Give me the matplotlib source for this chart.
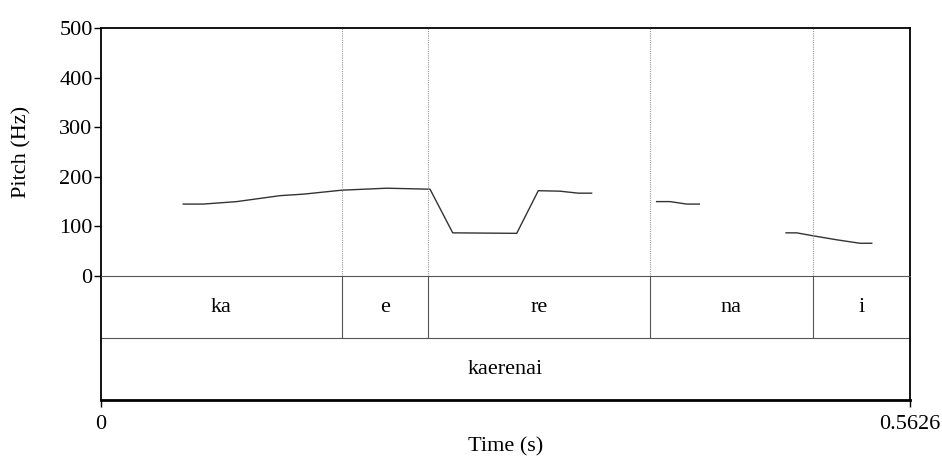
import numpy as np
import matplotlib.pyplot as plt

plt.rcParams['font.family'] = ['Liberation Serif', 'DejaVu Serif']

# pitch contour (NaN separates voiced stretches)
time = [0.0572, 0.0711, 0.0944, 0.1245, 0.1407, 0.1674, 0.1987, 0.2288, 0.2446,
        0.2891, 0.3041, 0.3192, 0.3319, 0.3412, np.nan,
        0.3864, 0.3957, 0.4073, 0.4161, np.nan,
        0.4764, 0.4838, 0.4953, 0.5116, 0.5278, 0.5360]
pitch = [145, 145, 150, 162, 165, 173, 177, 175, 87,
         86, 172, 171, 167, 167, np.nan,
         150, 150, 145, 145, np.nan,
         87, 87, 81, 73, 66, 66]

# syllable tier
syl_bounds = [0.0, 0.1674, 0.2271, 0.3821, 0.4948, 0.5626]
syl_labels = ['ka', 'e', 're', 'na', 'i']
word_label = 'kaerenai'
t_end = 0.5626

W, H = 942, 458
fs = 16
fig = plt.figure(figsize=(W / 100, H / 100), dpi=100)
left, right = 101 / W, 910 / W
ax = fig.add_axes([left, 1 - 276 / H, right - left, (276 - 28) / H])
ax2 = fig.add_axes([left, 1 - 400 / H, right - left, (400 - 276) / H])

# pitch panel
ax.plot(time, pitch, color='#333333', lw=1.0)
for b in syl_bounds[1:-1]:
    ax.axvline(b, color='#999999', lw=0.8, ls=(0, (1, 1)))
ax.set_xlim(0, t_end)
ax.set_ylim(0, 500)
ax.set_yticks(range(0, 501, 100))
ax.set_xticks([])
ax.tick_params(axis='y', direction='out', length=5, width=1, labelsize=fs, pad=1)
ax.set_ylabel('Pitch (Hz)', fontsize=fs, labelpad=20)
for s in ['left', 'top', 'right']:
    ax.spines[s].set_linewidth(1.3)
ax.spines['bottom'].set_visible(False)

# tier panel
ax2.patch.set_visible(False)
ax2.set_xlim(0, t_end)
ax2.set_ylim(0, 2)
ax2.axhline(1, color='#555555', lw=0.8)
for b in syl_bounds[1:-1]:
    ax2.plot([b, b], [1, 2], color='#555555', lw=0.8)
for i, lab in enumerate(syl_labels):
    ax2.text((syl_bounds[i] + syl_bounds[i + 1]) / 2, 1.5, lab,
             ha='center', va='center', fontsize=fs)
ax2.text(t_end / 2, 0.5, word_label, ha='center', va='center', fontsize=fs)
ax2.set_yticks([])
ax2.set_xticks([0, t_end])
ax2.set_xticklabels(['0', '0.5626'])
ax2.tick_params(axis='x', direction='out', length=5, width=1, labelsize=fs, pad=6)
ax2.set_xlabel('Time (s)', fontsize=fs, labelpad=2)
ax2.spines['top'].set_linewidth(0.8)
ax2.spines['top'].set_color('#555555')
for s in ['left', 'right']:
    ax2.spines[s].set_linewidth(1.3)
ax2.spines['bottom'].set_linewidth(2)

fig.savefig('out.png', dpi=100)
